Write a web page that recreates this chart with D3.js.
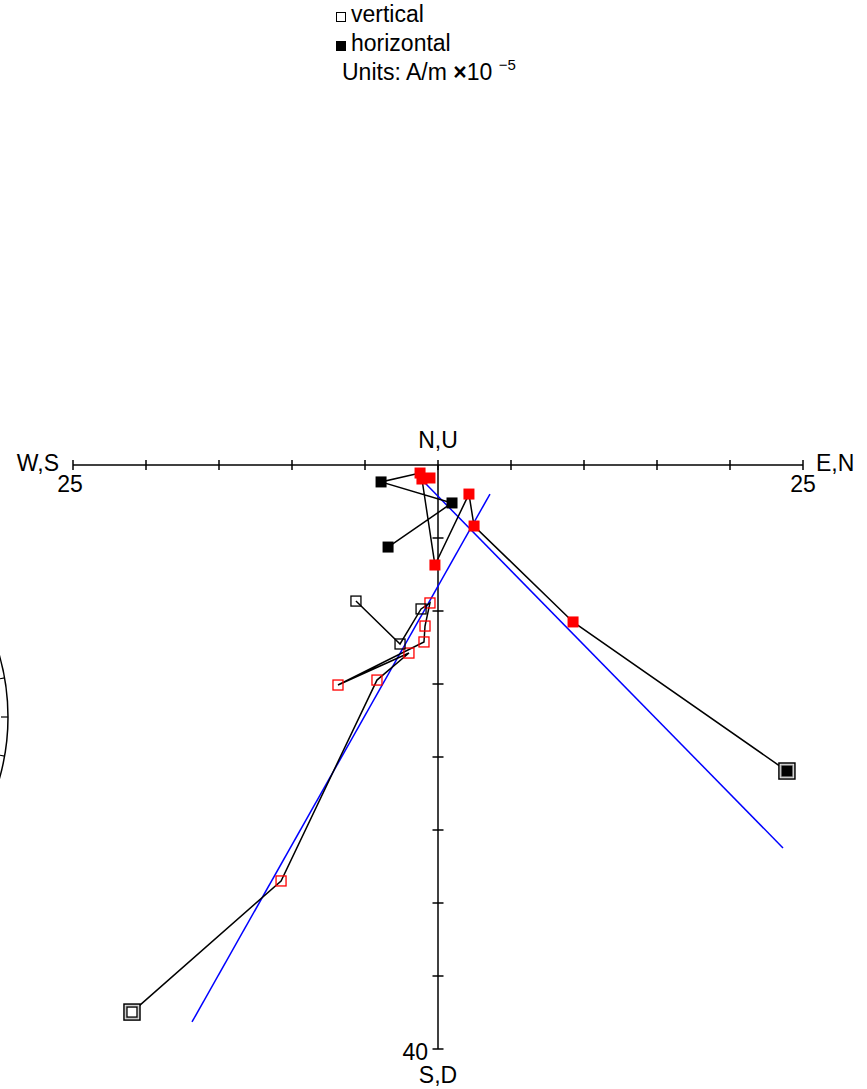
<!DOCTYPE html>
<html>
<head>
<meta charset="utf-8">
<script src="https://cdn.jsdelivr.net/npm/d3@7"></script>
<style>
  body { margin: 0; background: #fff; }
  svg { display: block; font-family: "Liberation Sans", Arial, sans-serif; }
</style>
</head>
<body>
<div class="zplot"></div>
<script>
// demagnetisation steps, NRM first (A/m x10^-5)
const east  = [23.90, 9.25, 2.47, 2.12, -0.21, -1.10, -0.55, -1.23, -3.90, 0.96, -3.42];
const north = [-20.96, -10.75, -4.18, -1.99, -6.85, -0.96, -0.89, -0.55, -1.16, -2.60, -5.62];
const up    = [-37.47, -28.49, -14.73, -12.88, -15.07, -12.12, -11.03, -9.45, -9.86, -12.26, -9.32];
const fitted = [false, true, true, true, true, true, true, true, false, false, false];

// PCA line ends
const fitH_east  = [-0.89, 23.63];
const fitH_north = [-1.23, -26.23];
const fitV_north = [3.56, -16.85];
const fitV_up    = [-1.99, -38.15];

const xTicks = [-20, -15, -10, -5, 5, 10, 15, 20];
const yTicks = [5, 10, 15, 20, 25, 30, 35];

function main(){
    const width = 867;
    const height = 1089;
    const svg = d3.select('.zplot')
        .append('svg')
        .attr('width', width)
        .attr('height', height);

    const x = d3.scaleLinear().domain([-25, 25]).range([73, 803]);
    const y = d3.scaleLinear().domain([0, 40]).range([465, 1049]); // distance below origin

    // part of the stereonet sitting at the left edge
    const cx = -217, cy = 717, R = 225;
    svg.append('circle')
        .attr('cx', cx).attr('cy', cy).attr('r', R)
        .attr('fill', 'none').attr('stroke', 'black').attr('stroke-width', 1.5);
    [-20, -10, 0, 10, 20].forEach(function(a){
        const t = a * Math.PI / 180;
        svg.append('line')
            .attr('x1', cx + R * Math.cos(t)).attr('y1', cy + R * Math.sin(t))
            .attr('x2', cx + (R - 7) * Math.cos(t)).attr('y2', cy + (R - 7) * Math.sin(t))
            .attr('stroke', 'black').attr('stroke-width', 1.2);
    });

    // axes
    const ax = svg.append('g').attr('stroke', 'black').attr('stroke-width', 1.5);
    ax.append('line').attr('x1', x(-25)).attr('x2', x(25)).attr('y1', y(0)).attr('y2', y(0));
    ax.append('line').attr('x1', x(0)).attr('x2', x(0)).attr('y1', y(0)).attr('y2', y(40));
    ax.selectAll('.xt')
        .data(xTicks.concat([-25, 0, 25]))
        .enter()
        .append('line')
        .attr('x1', d => x(d)).attr('x2', d => x(d))
        .attr('y1', y(0) - 5).attr('y2', y(0) + 5);
    ax.selectAll('.yt')
        .data(yTicks.concat([40]))
        .enter()
        .append('line')
        .attr('x1', x(0) - 5.5).attr('x2', x(0) + 5.5)
        .attr('y1', d => y(d)).attr('y2', d => y(d));

    const lab = svg.append('g').attr('font-size', '23px').attr('fill', 'black');
    lab.append('text').text('N,U').attr('x', x(0)).attr('y', 448).attr('text-anchor', 'middle');
    lab.append('text').text('S,D').attr('x', x(0)).attr('y', 1083).attr('text-anchor', 'middle');
    lab.append('text').text('W,S').attr('x', 59).attr('y', 471).attr('text-anchor', 'end');
    lab.append('text').text('E,N').attr('x', 816).attr('y', 471);
    lab.append('text').text('25').attr('x', x(-25) - 3).attr('y', 492).attr('text-anchor', 'middle');
    lab.append('text').text('25').attr('x', x(25)).attr('y', 492).attr('text-anchor', 'middle');
    lab.append('text').text('40').attr('x', x(0) - 10).attr('y', 1060).attr('text-anchor', 'end');

    // point positions
    const hPts = east.map((e, i) => [x(e), y(-north[i])]);
    const vPts = north.map((n, i) => [x(n), y(-up[i])]);

    // fit lines
    svg.append('line')
        .attr('x1', x(fitH_east[0])).attr('y1', y(-fitH_north[0]))
        .attr('x2', x(fitH_east[1])).attr('y2', y(-fitH_north[1]))
        .attr('stroke', '#0000ff').attr('stroke-width', 1.5);
    svg.append('line')
        .attr('x1', x(fitV_north[0])).attr('y1', y(-fitV_up[0]))
        .attr('x2', x(fitV_north[1])).attr('y2', y(-fitV_up[1]))
        .attr('stroke', '#0000ff').attr('stroke-width', 1.5);

    const line = d3.line();
    svg.append('path').attr('d', line(hPts))
        .attr('fill', 'none').attr('stroke', 'black').attr('stroke-width', 1.5);
    svg.append('path').attr('d', line(vPts))
        .attr('fill', 'none').attr('stroke', 'black').attr('stroke-width', 1.5);

    // NRM frames
    [hPts[0], vPts[0]].forEach(function(p){
        svg.append('rect')
            .attr('x', p[0] - 8).attr('y', p[1] - 8)
            .attr('width', 16).attr('height', 16)
            .attr('fill', 'white').attr('stroke', 'black').attr('stroke-width', 1.5);
        svg.append('rect')
            .attr('x', p[0] - 6).attr('y', p[1] - 6)
            .attr('width', 12).attr('height', 12)
            .attr('fill', 'none').attr('stroke', '#aaa').attr('stroke-width', 1.2);
    });

    // horizontal projection (filled)
    svg.selectAll('.hp')
        .data(hPts)
        .enter()
        .append('rect')
        .attr('x', d => d[0] - 5.5).attr('y', d => d[1] - 5.5)
        .attr('width', 11).attr('height', 11)
        .attr('fill', (d, i) => fitted[i] ? '#ff0000' : 'black')
        .attr('stroke', 'none');

    // vertical projection (open)
    svg.selectAll('.vp')
        .data(vPts)
        .enter()
        .append('rect')
        .attr('x', d => d[0] - 5).attr('y', d => d[1] - 5)
        .attr('width', 10).attr('height', 10)
        .attr('fill', 'none')
        .attr('stroke', (d, i) => fitted[i] ? '#ff0000' : 'black')
        .attr('stroke-width', 1.3);

    // legend
    const leg = svg.append('g').attr('font-size', '23px');
    leg.append('rect').attr('x', 336.5).attr('y', 12.5).attr('width', 9).attr('height', 9)
        .attr('fill', 'none').attr('stroke', 'black').attr('stroke-width', 1);
    leg.append('text').text('vertical').attr('x', 351).attr('y', 22);
    leg.append('rect').attr('x', 336).attr('y', 41).attr('width', 10).attr('height', 10)
        .attr('fill', 'black');
    leg.append('text').text('horizontal').attr('x', 351).attr('y', 51);
    const u = leg.append('text').attr('x', 342).attr('y', 80);
    u.append('tspan').text('Units: A/m ');
    u.append('tspan').text('×').attr('font-weight', 'bold');
    u.append('tspan').text('10 ');
    u.append('tspan').text('−5').attr('font-size', '15px').attr('dy', -10);
}

main();
</script>
</body>
</html>
